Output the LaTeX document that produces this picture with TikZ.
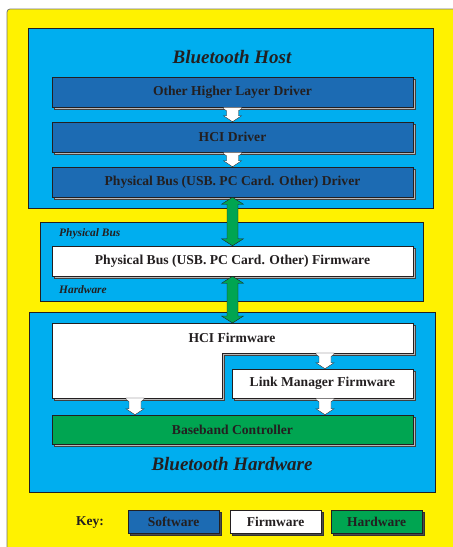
\documentclass[tikz,border=0pt]{standalone}
\usepackage{fontspec}
\setmainfont{Liberation Serif}
\usetikzlibrary{calc,shadows}
\definecolor{ylw}{HTML}{FFF200}
\definecolor{cyanbg}{HTML}{00AEEF}
\definecolor{swblue}{HTML}{1C6BB3}
\definecolor{hwgreen}{HTML}{00A551}
\definecolor{txt}{HTML}{231F20}
\tikzset{
  boxshadow/.style={general shadow={fill=black!28, draw=black!75, line width=0.4pt, shadow xshift=2pt, shadow yshift=-2pt}},
  layerbox/.style={draw=txt, line width=0.5pt, inner sep=0pt, minimum width=361pt, minimum height=30pt,
    font=\bfseries\fontsize{13.6}{15}\selectfont, text=txt, boxshadow},
  swbox/.style={layerbox, fill=swblue},
  fwbox/.style={layerbox, fill=white},
  hwbox/.style={layerbox, fill=hwgreen},
  container/.style={draw=txt, line width=0.5pt, fill=cyanbg, inner sep=0pt},
  title/.style={font=\bfseries\itshape\fontsize{19}{21}\selectfont, text=txt},
  sidelabel/.style={font=\bfseries\itshape\fontsize{11.4}{13}\selectfont, text=txt, anchor=west, inner sep=0pt},
  whitearrow/.style={fill=white, draw=txt, line width=0.4pt, line join=miter},
  greenarrow/.style={fill=hwgreen, draw=txt, line width=0.4pt},
  keybox/.style={layerbox, minimum width=91pt, minimum height=23pt, font=\bfseries\fontsize{13.5}{15}\selectfont,
    general shadow={fill=black!70, draw=black!80, shadow xshift=2pt, shadow yshift=-2pt}},
}
% full double arrow: #1 style, #2 upper point, #3 lower point, #4 shaft half width, #5 head half width, #6 head length
\newcommand{\dblarr}[6]{%
  \path[#1] let \p1=#2, \p2=#3 in
    (\x1,\y1) -- (\x1+#5,\y1-#6) -- (\x1+#4,\y1-#6) -- (\x1+#4,\y2+#6) -- (\x1+#5,\y2+#6)
    -- (\x1,\y2) -- (\x1-#5,\y2+#6) -- (\x1-#4,\y2+#6) -- (\x1-#4,\y1-#6) -- (\x1-#5,\y1-#6) -- cycle;}
% short white double arrow whose upper tip is hidden under the upper box
\newcommand{\wharr}[2]{%
  \path[whitearrow] let \p1=#1, \p2=#2 in
    (\x1-9pt,\y1) -- (\x1+9pt,\y1) -- (\x1+9pt,\y1-1.5pt) -- (\x1+6pt,\y1-3.5pt) -- (\x1+6pt,\y2+6pt)
    -- (\x1+9pt,\y2+6pt) -- (\x1,\y2) -- (\x1-9pt,\y2+6pt) -- (\x1-6pt,\y2+6pt) -- (\x1-6pt,\y1-3.5pt)
    -- (\x1-9pt,\y1-1.5pt) -- cycle;}
\begin{document}
\begin{tikzpicture}[x=1pt,y=-1pt]
\useasboundingbox (0,0) rectangle (453,547);
% outer panel
\path[fill=ylw, draw=black!55, line width=0.8pt, rounded corners=3pt] (7,9) rectangle (480,570);
% containers
\node[container, minimum width=405pt, minimum height=180pt] (host) at (230.5,118) {};
\node[title] (hosttitle) at (232,57) {Bluetooth Host};
\node[container, minimum width=383pt, minimum height=79pt] (pbus) at (231.5,261.5) {};
\node[sidelabel] (pblabel) at (59,234) {Physical Bus};
\node[sidelabel] (hwlabel) at (59,290) {Hardware};
\node[container, minimum width=406pt, minimum height=180pt] (hw) at (232,402) {};
\node[title] (hwtitle) at (232,464) {Bluetooth Hardware};
% host layers
\node[swbox] (ohl) at (232.5,92) {Other Higher Layer Driver};
\node[swbox] (hcid) at (232.5,137) {HCI Driver};
\node[swbox] (pbd) at (232.5,182) {Physical Bus (USB. PC Card. Other) Driver};
% physical bus firmware
\node[fwbox] (pbfw) at (232.5,261) {Physical Bus (USB. PC Card. Other) Firmware};
% HCI firmware (L shape)
\coordinate (hcitop) at (232.5,323);
\coordinate (hciright) at (325,353);
\coordinate (hcileft) at (135,398);
\path[fill=black!28, draw=black!75, line width=0.4pt] (54,325) -- (415,325) -- (415,355) -- (224,355) -- (224,400) -- (54,400) -- cycle;
\path[fill=white, draw=txt, line width=0.5pt] (52,323) -- (413,323) -- (413,353) -- (222,353) -- (222,398) -- (52,398) -- cycle;
\node[font=\bfseries\fontsize{13.6}{15}\selectfont, text=txt] (hcifw) at (232,338) {HCI Firmware};
% link manager and baseband
\node[fwbox, minimum width=181pt, minimum height=29pt] (lm) at (322.5,383.5) {Link Manager Firmware};
\node[hwbox, minimum height=29pt] (bb) at (232.5,429.5) {Baseband Controller};
% arrows
\wharr{(ohl.south)}{(hcid.north)}
\wharr{(hcid.south)}{(pbd.north)}
\dblarr{greenarrow}{(pbd.south)}{(pbfw.north)}{5.5pt}{11pt}{7pt}
\dblarr{greenarrow}{(pbfw.south)}{(hcitop)}{5.5pt}{11pt}{7pt}
\wharr{(hciright)}{(hciright |- lm.north)}
\wharr{(hcileft)}{(hcileft |- bb.north)}
\wharr{(hciright |- lm.south)}{(hciright |- bb.north)}
% key
\node[font=\bfseries\fontsize{13.5}{15}\selectfont, text=txt] (key) at (90,523) {Key:};
\node[keybox, fill=swblue] (ksw) at (173.5,521.5) {Software};
\node[keybox, fill=white] (kfw) at (275.5,521.5) {Firmware};
\node[keybox, fill=hwgreen] (khw) at (376.5,521.5) {Hardware};
\end{tikzpicture}
\end{document}
